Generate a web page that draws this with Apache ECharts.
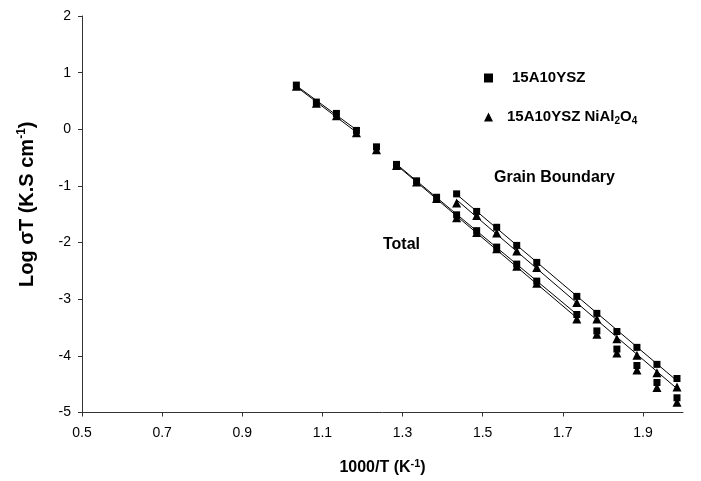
<!DOCTYPE html>
<html>
<head>
<meta charset="utf-8">
<script src="https://cdn.jsdelivr.net/npm/echarts@6/dist/echarts.min.js"></script>
<style>
html, body { margin: 0; padding: 0; background: #fff; }
#chart { width: 701px; height: 481px; }
</style>
</head>
<body>
<div id="chart"></div>
<script>
// 总电导（Total）数据点
var x_total = [1.035, 1.085, 1.135, 1.185, 1.235, 1.285, 1.335, 1.385, 1.435, 1.485,
	1.535, 1.585, 1.635, 1.735, 1.785, 1.835, 1.885, 1.935, 1.985];
var total_ysz = [0.78, 0.48, 0.28, -0.02, -0.31, -0.62, -0.91, -1.20, -1.51, -1.79,
	-2.08, -2.38, -2.68, -3.27, -3.56, -3.88, -4.17, -4.47, -4.74];
var total_nial = [0.76, 0.46, 0.24, -0.06, -0.36, -0.64, -0.93, -1.22, -1.56, -1.82,
	-2.11, -2.42, -2.72, -3.35, -3.62, -3.95, -4.25, -4.56, -4.82];
// 晶界（Grain Boundary）数据点
var x_grain = [1.435, 1.485, 1.535, 1.585, 1.635, 1.735, 1.785, 1.835, 1.885, 1.935, 1.985];
var grain_ysz = [-1.14, -1.45, -1.73, -2.05, -2.35, -2.95, -3.25, -3.57, -3.85, -4.15, -4.40];
var grain_nial = [-1.30, -1.52, -1.83, -2.15, -2.44, -3.06, -3.35, -3.70, -3.99, -4.30, -4.55];
// 趋势线所用的点范围（下标，含首尾）
var fit_total_high = [0, 3];
var fit_total_low = [5, 13];
var fit_grain = [0, 10];

var name_ysz = "15A10YSZ";
var name_nial = "15A10YSZ NiAl2O4";

function pairs(xs, ys) {
	return xs.map(function (x, i) { return [x, ys[i]]; });
}

// 最小二乘直线，返回首尾两点
function trend(xs, ys, range) {
	var n = 0, sx = 0, sy = 0, sxx = 0, sxy = 0;
	for (var i = range[0]; i <= range[1]; i++) {
		n++; sx += xs[i]; sy += ys[i];
		sxx += xs[i] * xs[i]; sxy += xs[i] * ys[i];
	}
	var k = (n * sxy - sx * sy) / (n * sxx - sx * sx);
	var b = (sy - k * sx) / n;
	var x0 = xs[range[0]], x1 = xs[range[1]];
	return [[x0, k * x0 + b], [x1, k * x1 + b]];
}

function line(data) {
	return {
		type: "line", data: data, showSymbol: false, silent: true,
		lineStyle: { color: "#000", width: 1 }, z: 1
	};
}

function dots(name, symbol, size, data) {
	return {
		type: "scatter", name: name, data: data, symbol: symbol,
		symbolSize: size, itemStyle: { color: "#000", opacity: 1 }, z: 3
	};
}

var font = "Liberation Sans, Arial, sans-serif";
var sup_style = { fontSize: 11, fontWeight: "bold", fontFamily: font, verticalAlign: "top", padding: [0, 0, 8, 0] };
var chart = echarts.init(document.getElementById("chart"));
chart.setOption({
	animation: false,
	grid: { left: 82, right: 18, top: 16, bottom: 68 },
	xAxis: {
		type: "value", min: 0.5, max: 2.0, interval: 0.2,
		name: "1000/T (K{sup|-1})", nameLocation: "middle", nameGap: 46,
		nameTextStyle: {
			fontFamily: font, fontSize: 16, fontWeight: "bold", color: "#000",
			rich: { sup: sup_style }
		},
		splitLine: { show: false },
		axisLine: { onZero: false, lineStyle: { color: "#333", width: 1 } },
		axisTick: { length: 4, lineStyle: { color: "#333" } },
		axisLabel: {
			fontFamily: font, fontSize: 14, color: "#000", margin: 14,
			showMaxLabel: false,
			formatter: function (v) { return v.toFixed(1); }
		}
	},
	yAxis: {
		type: "value", min: -5, max: 2, interval: 1,
		name: "Log σT (K.S cm{sup|-1})", nameLocation: "middle", nameGap: 44,
		nameTextStyle: {
			fontFamily: font, fontSize: 20, fontWeight: "bold", color: "#000",
			padding: [0, 0, 0, 20],
			rich: { sup: { fontSize: 12, fontWeight: "bold", fontFamily: font, verticalAlign: "top", padding: [0, 0, 10, 0] } }
		},
		splitLine: { show: false },
		axisLine: { show: true, onZero: false, lineStyle: { color: "#333", width: 1 } },
		axisTick: { show: true, length: 4, lineStyle: { color: "#333" } },
		axisLabel: { fontFamily: font, fontSize: 14, color: "#000", margin: 11 }
	},
	legend: {
		orient: "vertical", left: 479, top: 64, itemGap: 21,
		itemWidth: 9, itemHeight: 9,
		textStyle: {
			fontFamily: font, fontSize: 15, fontWeight: "bold", color: "#000", lineHeight: 18,
			rich: { sub: { fontSize: 10, fontWeight: "bold", fontFamily: font, verticalAlign: "bottom", lineHeight: 18, padding: [5, 0, 0, 0] } }
		},
		formatter: function (n) {
			return n === name_nial ? "15A10YSZ NiAl{sub|2}O{sub|4}" : n;
		},
		data: [
			{ name: name_ysz, icon: "rect", textStyle: { padding: [0, 0, 0, 14] } },
			{ name: name_nial, icon: "triangle", textStyle: { padding: [0, 0, 0, 9] } }
		]
	},
	graphic: [
		{ type: "text", left: 494, top: 170, style: { text: "Grain Boundary", font: "bold 16px " + font, fill: "#000" } },
		{ type: "text", left: 383, top: 237, style: { text: "Total", font: "bold 16px " + font, fill: "#000" } }
	],
	series: [
		line(trend(x_total, total_ysz, fit_total_high)),
		line(trend(x_total, total_nial, fit_total_high)),
		line(trend(x_total, total_ysz, fit_total_low)),
		line(trend(x_total, total_nial, fit_total_low)),
		line(trend(x_grain, grain_ysz, fit_grain)),
		line(trend(x_grain, grain_nial, fit_grain)),
		dots(name_ysz, "rect", 7, pairs(x_total, total_ysz)),
		dots(name_ysz, "rect", 7, pairs(x_grain, grain_ysz)),
		dots(name_nial, "triangle", 9, pairs(x_total, total_nial)),
		dots(name_nial, "triangle", 9, pairs(x_grain, grain_nial))
	]
});
window.addEventListener("resize", chart.resize);
</script>
</body>
</html>
